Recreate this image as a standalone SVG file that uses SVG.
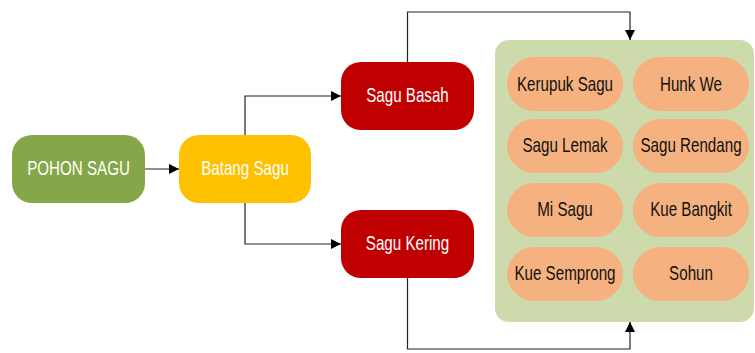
<svg xmlns="http://www.w3.org/2000/svg" width="755" height="353" viewBox="0 0 755 353">
  <defs>
    <marker id="arr" markerUnits="userSpaceOnUse" markerWidth="10" markerHeight="10" refX="10" refY="5" orient="auto">
      <path d="M0,0 L10,5 L0,10 z" fill="#000"/>
    </marker>
    <style>
      .lbl { font-family: "Liberation Sans", Arial, sans-serif; font-size: 20.5px; text-anchor: middle; }
      .w { fill: #ffffff; }
      .b { fill: #111111; }
      .con { fill: none; stroke: #222; stroke-width: 1.2; marker-end: url(#arr); }
      .pill { fill: #f5b17f; }
    </style>
  </defs>
  <rect width="755" height="353" fill="#ffffff"/>

  <g id="container">
    <rect x="495" y="40" width="259" height="282" rx="14" fill="#cddbac"/>
  </g>

  <g id="connectors">
    <path class="con" d="M145,169 H179"/>
    <path class="con" d="M245,135 V96 H341"/>
    <path class="con" d="M245,203 V244 H341"/>
    <path class="con" d="M407.5,62 V12 H630 V40"/>
    <path class="con" d="M407.5,278 V349 H630 V322"/>
  </g>

  <g id="pohon-sagu">
    <rect x="12" y="135" width="133" height="68" rx="20" fill="#86a64a"/>
    <text class="lbl w" transform="translate(78.5,174.5) scale(0.74,1)">POHON SAGU</text>
  </g>
  <g id="batang-sagu">
    <rect x="179" y="135" width="132" height="68" rx="20" fill="#ffc000"/>
    <text class="lbl w" transform="translate(245,175) scale(0.74,1)">Batang Sagu</text>
  </g>
  <g id="sagu-basah">
    <rect x="341" y="62" width="133" height="68" rx="20" fill="#c00000"/>
    <text class="lbl w" transform="translate(407.5,102) scale(0.74,1)">Sagu Basah</text>
  </g>
  <g id="sagu-kering">
    <rect x="341" y="210" width="133" height="68" rx="20" fill="#c00000"/>
    <text class="lbl w" transform="translate(407.5,250) scale(0.74,1)">Sagu Kering</text>
  </g>

  <g id="kerupuk-sagu">
    <rect class="pill" x="507" y="57" width="116" height="54" rx="27"/>
    <text class="lbl b" transform="translate(565,90.7) scale(0.74,1)">Kerupuk Sagu</text>
  </g>
  <g id="hunk-we">
    <rect class="pill" x="633" y="57" width="116" height="54" rx="27"/>
    <text class="lbl b" transform="translate(691,90.7) scale(0.74,1)">Hunk We</text>
  </g>
  <g id="sagu-lemak">
    <rect class="pill" x="507" y="119" width="116" height="54" rx="27"/>
    <text class="lbl b" transform="translate(565,152.3) scale(0.74,1)">Sagu Lemak</text>
  </g>
  <g id="sagu-rendang">
    <rect class="pill" x="633" y="119" width="116" height="54" rx="27"/>
    <text class="lbl b" transform="translate(691,152.3) scale(0.74,1)">Sagu Rendang</text>
  </g>
  <g id="mi-sagu">
    <rect class="pill" x="507" y="183" width="116" height="54" rx="27"/>
    <text class="lbl b" transform="translate(565,216) scale(0.74,1)">Mi Sagu</text>
  </g>
  <g id="kue-bangkit">
    <rect class="pill" x="633" y="183" width="116" height="54" rx="27"/>
    <text class="lbl b" transform="translate(691,216) scale(0.74,1)">Kue Bangkit</text>
  </g>
  <g id="kue-semprong">
    <rect class="pill" x="507" y="247" width="116" height="54" rx="27"/>
    <text class="lbl b" transform="translate(565,280) scale(0.74,1)">Kue Semprong</text>
  </g>
  <g id="sohun">
    <rect class="pill" x="633" y="247" width="116" height="54" rx="27"/>
    <text class="lbl b" transform="translate(691,280) scale(0.74,1)">Sohun</text>
  </g>
</svg>
